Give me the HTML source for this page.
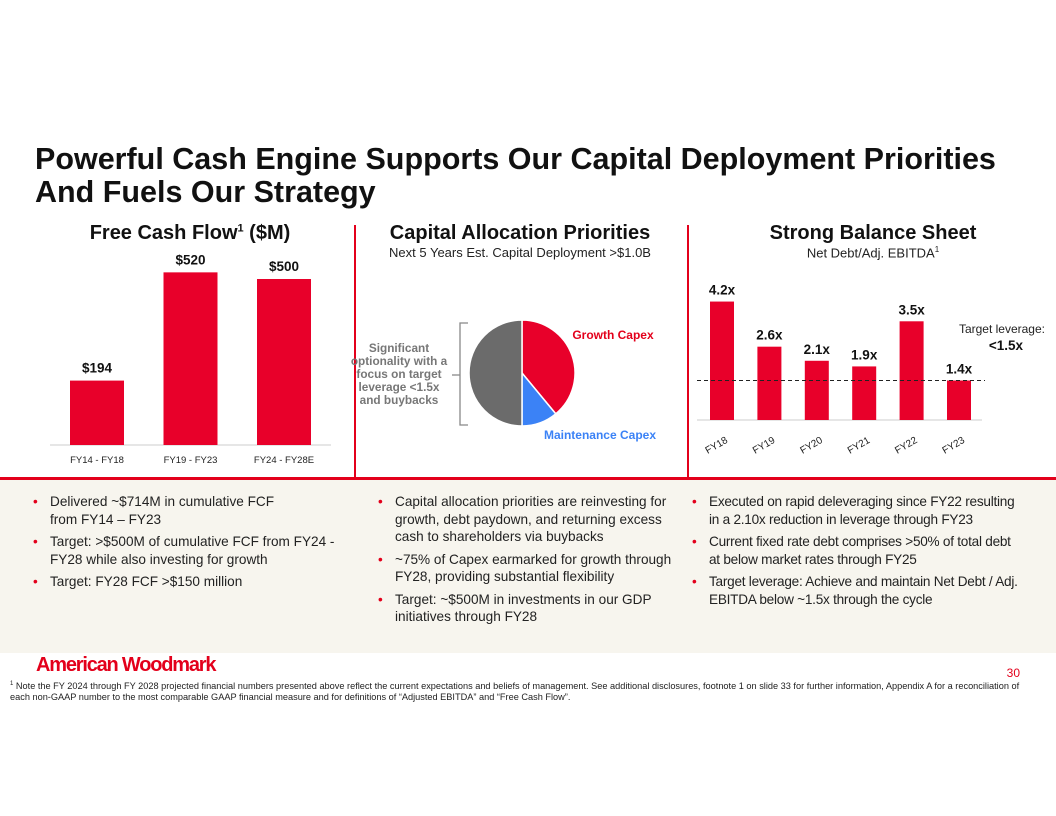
<!DOCTYPE html>
<html><head><meta charset="utf-8"><style>
body{margin:0;width:1056px;height:816px;background:#fff;font-family:"Liberation Sans",sans-serif;position:relative;overflow:hidden}
.a{position:absolute}
h1{position:absolute;left:35px;top:143px;margin:0;font-size:30.5px;line-height:33px;font-weight:bold;color:#111}
.ht{font-weight:bold;font-size:20px;color:#111;text-align:center}
.sub{font-size:13px;color:#222;text-align:center}
.panel{position:absolute;left:0;top:477px;width:1056px;height:173px;background:#f7f5ee;border-top:3px solid #e3001b}
ul{position:absolute;margin:0;padding:0;list-style:none;font-size:13.6px;line-height:17.5px;color:#222;white-space:nowrap}
li{position:relative;padding-left:17px;margin-bottom:5px}
li:before{content:"•";color:#e3001b;position:absolute;left:0}
</style></head><body>
<h1>Powerful Cash Engine Supports Our Capital Deployment Priorities<br>And Fuels Our Strategy</h1>
<div class="a" style="left:354px;top:225px;width:2px;height:253px;background:#e3001b"></div>
<div class="a" style="left:687px;top:225px;width:2px;height:253px;background:#e3001b"></div>
<div class="a ht" style="left:40px;top:222px;width:300px">Free Cash Flow<sup style="font-size:11px">1</sup> ($M)</div>
<div class="a ht" style="left:360px;top:222px;width:320px">Capital Allocation Priorities</div>
<div class="a sub" style="left:360px;top:245px;width:320px">Next 5 Years Est. Capital Deployment &gt;$1.0B</div>
<div class="a ht" style="left:690px;top:222px;width:366px">Strong Balance Sheet</div>
<div class="a sub" style="left:690px;top:245px;width:366px">Net Debt/Adj. EBITDA<sup style="font-size:8px">1</sup></div>
<svg class="a" style="left:0;top:0" width="1056" height="478">
<g id="fcf"></g><g id="pie"></g><g id="lev"></g>
<text x="399" y="352" text-anchor="middle" font-size="11.8" font-weight="bold" fill="#777"><tspan x="399">Significant</tspan><tspan x="399" dy="13">optionality with a</tspan><tspan x="399" dy="13">focus on target</tspan><tspan x="399" dy="13">leverage &lt;1.5x</tspan><tspan x="399" dy="13">and buybacks</tspan></text>
<path d="M468,323 h-8 v52 l-4,0 l4,0 v50 h8" fill="none" stroke="#888" stroke-width="1.3"/>
<path d="M452,375 h4" stroke="#888" stroke-width="1.3"/>
<text x="613" y="339" text-anchor="middle" font-size="12" font-weight="bold" fill="#e3001b">Growth Capex</text>
<text x="600" y="439" text-anchor="middle" font-size="12" font-weight="bold" fill="#3b82f6">Maintenance Capex</text>
<text x="1045" y="333" text-anchor="end" font-size="12" fill="#222">Target leverage:</text>
<text x="1023" y="350" text-anchor="end" font-size="13.5" font-weight="bold" fill="#111">&lt;1.5x</text>
</svg>
<div class="panel">
<ul style="left:33px;top:13px">
<li>Delivered ~$714M in cumulative FCF<br>from FY14 – FY23</li>
<li>Target: &gt;$500M of cumulative FCF from FY24 -<br>FY28 while also investing for growth</li>
<li>Target: FY28 FCF &gt;$150 million</li></ul>
<ul style="left:378px;top:13px">
<li>Capital allocation priorities are reinvesting for<br>growth, debt paydown, and returning excess<br>cash to shareholders via buybacks</li>
<li>~75% of Capex earmarked for growth through<br>FY28, providing substantial flexibility</li>
<li>Target: ~$500M in investments in our GDP<br>initiatives through FY28</li></ul>
<ul style="left:692px;top:13px;letter-spacing:-0.25px">
<li>Executed on rapid deleveraging since FY22 resulting<br>in a 2.10x reduction in leverage through FY23</li>
<li>Current fixed rate debt comprises &gt;50% of total debt<br>at below market rates through FY25</li>
<li>Target leverage: Achieve and maintain Net Debt / Adj.<br>EBITDA below ~1.5x through the cycle</li></ul>
</div>
<div class="a" style="left:36px;top:654px;font-size:20px;font-weight:bold;color:#e3001b;letter-spacing:-1.2px">American Woodmark</div>
<div class="a" style="left:1000px;top:666px;width:20px;font-size:12px;color:#e3001b;text-align:right">30</div>
<div class="a" style="left:10px;top:679px;width:1045px;font-size:9.2px;line-height:11px;color:#222;white-space:nowrap"><sup style="font-size:6px">1</sup> Note the FY 2024 through FY 2028 projected financial numbers presented above reflect the current expectations and beliefs of management. See additional disclosures, footnote 1 on slide 33 for further information, Appendix A for a reconciliation of<br>each non-GAAP number to the most comparable GAAP financial measure and for definitions of “Adjusted EBITDA” and “Free Cash Flow”.</div>
<script>
const fcfCats=["FY14 - FY18","FY19 - FY23","FY24 - FY28E"];
const fcfVals=[194,520,500];
const fcfLabels=["$194","$520","$500"];
const levCats=["FY18","FY19","FY20","FY21","FY22","FY23"];
const levVals=[4.2,2.6,2.1,1.9,3.5,1.4];
const levTarget=1.4;
const pieLabels=["Growth Capex","Maintenance Capex","Optionality"];
const pieVals=[39,11,50];
const NS="http://www.w3.org/2000/svg";
function mk(p,t,a){const e=document.createElementNS(NS,t);for(const k in a)e.setAttribute(k,a[k]);p.appendChild(e);return e;}
const g1=document.getElementById('fcf');
const fy=v=>445-v*0.332, fx=i=>70+i*93.5;
let ax=mk(g1,'line',{x1:50,x2:331,y1:445,y2:445,stroke:'#ccc','stroke-width':1});


fcfVals.forEach((v,i)=>{
 const r=mk(g1,'rect',{x:fx(i),y:fy(v),width:54,height:445-fy(v),fill:'#e8002a'});
 
 
 const t=mk(g1,'text',{x:fx(i)+27,y:fy(v)-8,'text-anchor':'middle','font-size':13.5,'font-weight':'bold',fill:'#111'});t.textContent=fcfLabels[i];
 
 
 const c=mk(g1,'text',{x:fx(i)+27,y:463,'text-anchor':'middle','font-size':9.5,fill:'#222'});c.textContent=fcfCats[i];
 
 
});
const g2=document.getElementById('pie');
const cx=522,cy=373,R=53,cols=['#e8002a','#3b82f6','#6b6b6b'];
const tot=pieVals.reduce((a,b)=>a+b,0);let ang=0;
pieVals.forEach((v,i)=>{
 const a0=ang,a1=ang+v/tot*2*Math.PI;ang=a1;
 const x0=cx+R*Math.sin(a0),y0=cy-R*Math.cos(a0),x1=cx+R*Math.sin(a1),y1=cy-R*Math.cos(a1);
 const p=mk(g2,'path',{d:`M${cx},${cy}L${x0},${y0}A${R},${R} 0 ${a1-a0>Math.PI?1:0} 1 ${x1},${y1}Z`,fill:cols[i],stroke:'#fff','stroke-width':1.5});
 
 
});
const g3=document.getElementById('lev');
const ly=v=>420-v*28.2, lx=i=>710+i*47.4;
let ax2=mk(g3,'line',{x1:697,x2:982,y1:420,y2:420,stroke:'#ccc','stroke-width':1});


levVals.forEach((v,i)=>{
 const r=mk(g3,'rect',{x:lx(i),y:ly(v),width:24,height:420-ly(v),fill:'#e8002a'});
 
 
 const t=mk(g3,'text',{x:lx(i)+12,y:ly(v)-7,'text-anchor':'middle','font-size':13.5,'font-weight':'bold',fill:'#111'});t.textContent=v.toFixed(1)+'x';
 
 
 const c=mk(g3,'text',{x:lx(i)+8,y:448,'text-anchor':'middle','font-size':10,fill:'#222',transform:`rotate(-30 ${lx(i)+8} 448)`});c.textContent=levCats[i];
 
 
});
const dl=mk(g3,'line',{x1:697,x2:985,y1:ly(levTarget),y2:ly(levTarget),stroke:'#222','stroke-width':1,'stroke-dasharray':'4,3'});


</script>
</body></html>
